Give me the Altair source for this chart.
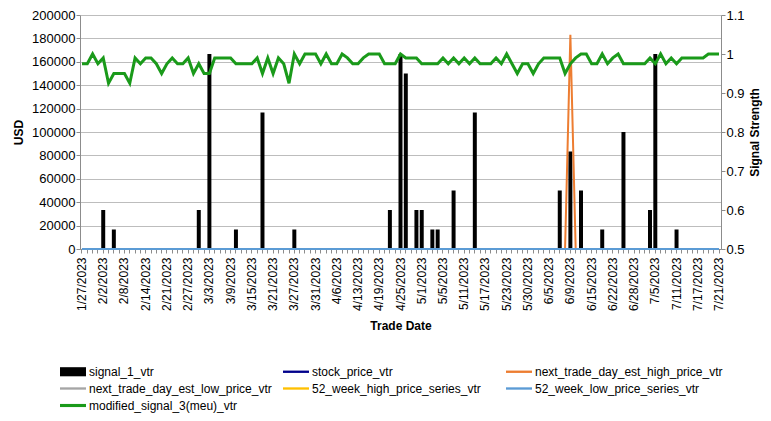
import json
import altair as alt
import pandas as pd

# ---------------- data ----------------
holidays = ["2023-02-20", "2023-04-07", "2023-05-29", "2023-06-19", "2023-07-04"]
days = pd.bdate_range("2023-01-27", "2023-07-21", freq="C", holidays=holidays)
dates = [f"{d.month}/{d.day}/{d.year}" for d in days]          # 121 trading days
tick_labels = dates[::4]

signal_dates = ["2/2/2023", "2/6/2023", "3/1/2023", "3/3/2023", "3/10/2023", "3/17/2023",
                "3/27/2023", "4/21/2023", "4/25/2023", "4/26/2023", "4/28/2023", "5/1/2023",
                "5/3/2023", "5/4/2023", "5/9/2023", "5/15/2023", "6/7/2023", "6/9/2023",
                "6/13/2023", "6/20/2023", "6/26/2023", "7/3/2023", "7/5/2023", "7/11/2023"]
signal_values = [33333, 16667, 33333, 166667, 16667, 116667,
                 16667, 33333, 166667, 150000, 33333, 33333,
                 16667, 16667, 50000, 116667, 50000, 83333,
                 50000, 16667, 100000, 33333, 166667, 16667]

modified_signal = [
    0.975, 0.975, 1.0, 0.975, 0.99, 0.925, 0.95, 0.95, 0.95, 0.925,
    0.99, 0.975, 0.99, 0.99, 0.975, 0.95, 0.975, 0.99, 0.975, 0.975,
    0.99, 0.95, 0.975, 0.95, 0.95, 0.99, 0.99, 0.99, 0.99, 0.975,
    0.975, 0.975, 0.975, 0.99, 0.95, 0.99, 0.95, 0.99, 0.975, 0.925,
    1.0, 0.975, 1.0, 1.0, 1.0, 0.975, 1.0, 0.975, 0.975, 1.0,
    0.99, 0.975, 0.975, 0.99, 1.0, 1.0, 1.0, 0.975, 0.975, 0.975,
    1.0, 0.99, 0.99, 0.99, 0.975, 0.975, 0.975, 0.975, 0.99, 0.975,
    0.99, 0.975, 0.99, 0.975, 0.99, 0.975, 0.975, 0.975, 0.99, 0.975,
    1.0, 0.975, 0.95, 0.975, 0.975, 0.95, 0.975, 0.99, 0.99, 0.99,
    0.99, 0.95, 0.975, 0.99, 1.0, 1.0, 0.975, 0.975, 1.0, 0.975,
    0.99, 1.0, 0.975, 0.975, 0.975, 0.975, 0.975, 0.99, 0.975, 1.0,
    0.975, 0.99, 0.975, 0.99, 0.99, 0.99, 0.99, 0.99, 1.0, 1.0,
    1.0,
]

stock_price = [0] * 121
est_high_price = [0] * 92 + [183000] + [0] * 28
est_low_price = [0] * 121
week52_high = [0] * 121
week52_low = [0] * 121

series_names = ["signal_1_vtr", "stock_price_vtr", "next_trade_day_est_high_price_vtr",
                "next_trade_day_est_low_price_vtr", "52_week_high_price_series_vtr",
                "52_week_low_price_series_vtr", "modified_signal_3(meu)_vtr"]
series_colors = ["#000000", "#00008B", "#ED7D31", "#A5A5A5", "#FFC000", "#5B9BD5", "#1A9A1A"]
legend_shapes = ["M-3,-0.7H1V0.7H-3Z",
                 "M-3,-0.18H1V0.18H-3Z", "M-3,-0.18H1V0.18H-3Z", "M-3,-0.18H1V0.18H-3Z",
                 "M-3,-0.18H1V0.18H-3Z", "M-3,-0.18H1V0.18H-3Z", "M-3,-0.24H1V0.24H-3Z"]

# ---------------- encodings ----------------
FONT = "Liberation Sans"
x_enc = alt.X(
    "date:N", sort=dates,
    scale=alt.Scale(domain=dates, paddingInner=0.25, paddingOuter=0),
    axis=alt.Axis(
        title="Trade Date", labelAngle=270, labelAlign="right", labelBaseline="middle",
        labelExpr=f"indexof({json.dumps(tick_labels)}, datum.value) >= 0 ? datum.value : ''",
        labelFontSize=12, tickSize=4, labelPadding=4, titlePadding=10,
        titleFontSize=12, titleFontWeight="bold", labelOverlap=False,
    ),
)
left_scale = alt.Scale(domain=[0, 200000], nice=False, zero=True)
left_axis = alt.Axis(
    title="USD", values=list(range(0, 200001, 20000)), format="d",
    grid=True, gridColor="#BDBDBD", labelFontSize=13, tickSize=4, labelPadding=1,
    titleFontSize=12, titleFontWeight="bold", titlePadding=6,
)
y_left = alt.Y("usd:Q", scale=left_scale, axis=left_axis)

right_axis = alt.Axis(
    title="Signal Strength", orient="right", values=[0.5, 0.6, 0.7, 0.8, 0.9, 1.0, 1.1],
    format="~g", grid=False, labelFontSize=13, tickSize=4, labelPadding=1,
    titleFontSize=12, titleFontWeight="bold", titlePadding=5, titleAngle=270,
    titleBaseline="top",
)
y_right = alt.Y("signal:Q", scale=alt.Scale(domain=[0.5, 1.1], nice=False, zero=False),
                axis=right_axis)

# ---------------- layers ----------------
bars_df = pd.DataFrame({"date": signal_dates, "usd": signal_values})
bars = alt.Chart(bars_df).mark_bar(color="#000000").encode(x=x_enc, y=y_left)

line_layers = []
for name, vals, color, w in [
    ("stock_price_vtr", stock_price, "#00008B", 2),
    ("next_trade_day_est_high_price_vtr", est_high_price, "#ED7D31", 2),
    ("next_trade_day_est_low_price_vtr", est_low_price, "#A5A5A5", 2),
    ("52_week_high_price_series_vtr", week52_high, "#FFC000", 2),
    ("52_week_low_price_series_vtr", week52_low, "#5B9BD5", 2),
]:
    df = pd.DataFrame({"date": dates, "usd": vals})
    line_layers.append(
        alt.Chart(df).mark_line(color=color, strokeWidth=w).encode(x=x_enc, y=y_left)
    )

legend_def = alt.Legend(
    title=None, orient="none", direction="horizontal", legendX=-7, legendY=350,
    columns=3, gridAlign="all",
    columnPadding=6, rowPadding=4, symbolSize=169, symbolStrokeWidth=0, symbolOpacity=1,
    labelFontSize=12, labelLimit=400, labelOffset=3, labelFont=FONT, padding=0,
)
legend_df = pd.DataFrame({"series": series_names, "date": [dates[0]] * 7, "usd": [0] * 7})
legend_layer = alt.Chart(legend_df).mark_point(filled=True, opacity=0, size=1).encode(
    x=x_enc, y=y_left,
    color=alt.Color("series:N", scale=alt.Scale(domain=series_names, range=series_colors),
                    legend=legend_def),
    shape=alt.Shape("series:N", scale=alt.Scale(domain=series_names, range=legend_shapes),
                    legend=legend_def),
)

left = alt.layer(bars, *line_layers, legend_layer)

green_df = pd.DataFrame({"date": dates, "signal": modified_signal})
green = alt.Chart(green_df).mark_line(color="#1A9A1A", strokeWidth=3).encode(x=x_enc, y=y_right)

chart = (
    alt.layer(left, green)
    .resolve_scale(y="independent")
    .properties(
        width=641, height=234,
        autosize=alt.AutoSizeParams(type="none"),
        padding={"left": 72, "top": 7, "right": 42, "bottom": 164},
    )
    .configure_view(stroke=None)
    .configure_axis(labelFont=FONT, titleFont=FONT, domainColor="#8C8C8C",
                    tickColor="#8C8C8C", labelColor="#000000", titleColor="#000000")
    .configure_legend(labelFont=FONT)
)

chart.save("out.html", embed_options={"renderer": "svg", "actions": False})
